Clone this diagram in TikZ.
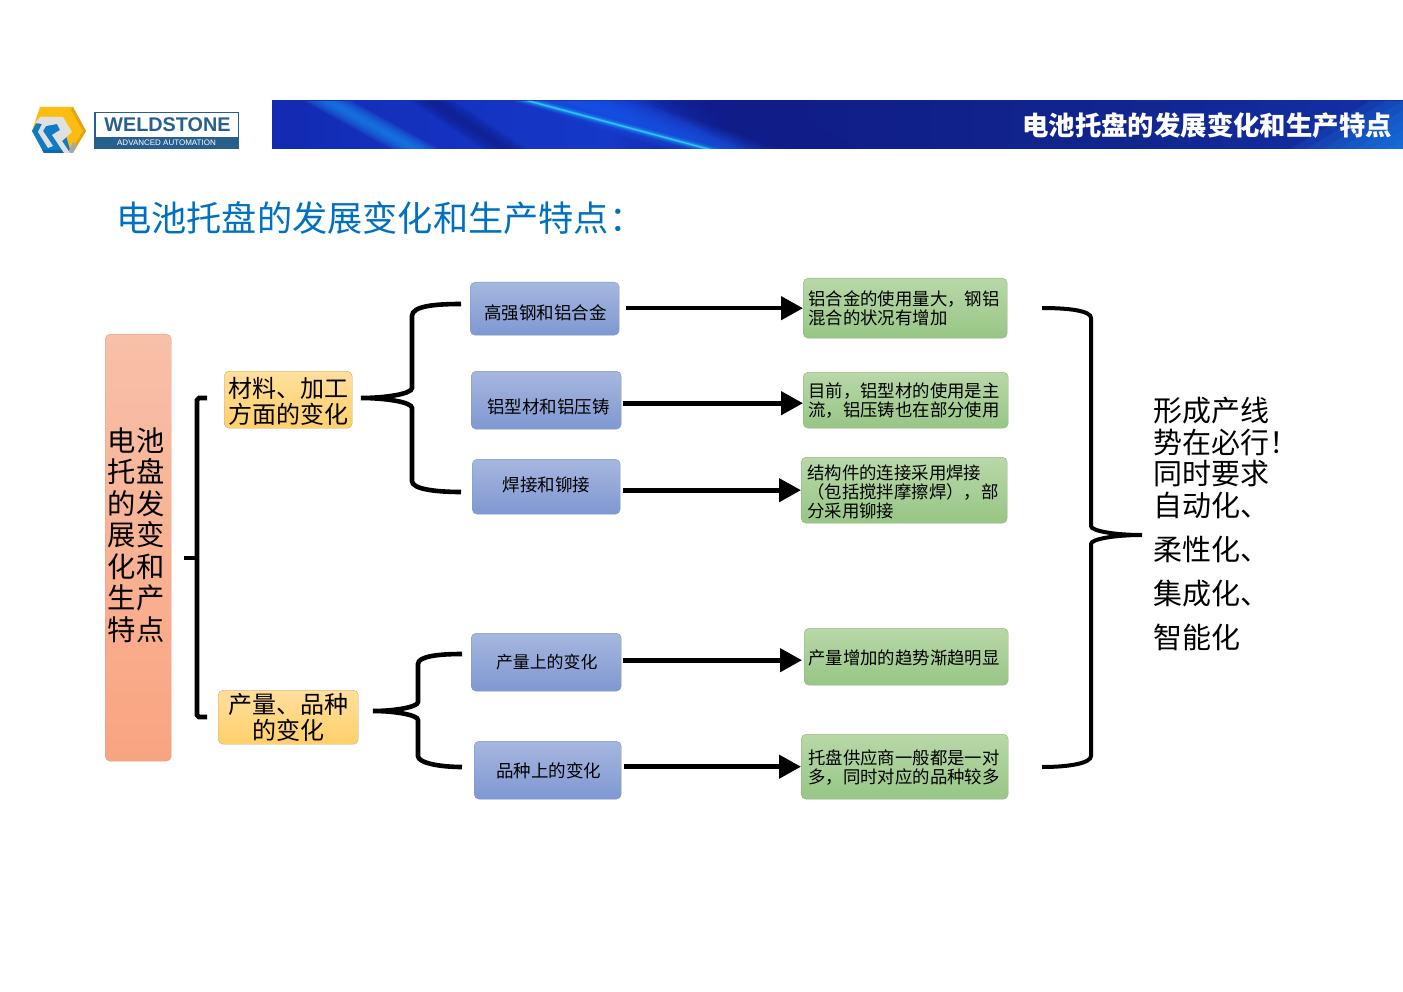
\documentclass[tikz,border=0pt]{standalone}
\usepackage{fontspec}
\setmainfont{Noto Sans CJK SC}
\newfontfamily\logofont{Liberation Sans}
\usetikzlibrary{arrows.meta}
\definecolor{titleblue}{HTML}{0070C0}
\definecolor{logoline}{HTML}{27608F}
\definecolor{bA}{HTML}{1C5AF0}
\definecolor{bB}{HTML}{1546DC}
\definecolor{bC}{HTML}{101F9E}
\definecolor{bD}{HTML}{1430BC}
\definecolor{bE}{HTML}{1538C8}
\definecolor{bF}{HTML}{101C88}
\definecolor{bG}{HTML}{11268F}
\definecolor{bH}{HTML}{1535B8}
\definecolor{bI}{HTML}{1E5EE4}
\definecolor{redE}{HTML}{E0A088}
\definecolor{redT}{HTML}{F8C0A8}
\definecolor{redB}{HTML}{F9A480}
\definecolor{oraE}{HTML}{C9A870}
\definecolor{oraT}{HTML}{FFDF9E}
\definecolor{oraB}{HTML}{FFD06A}
\definecolor{bluE}{HTML}{7E93BF}
\definecolor{bluT}{HTML}{A6B7DF}
\definecolor{bluB}{HTML}{7F98D2}
\definecolor{greE}{HTML}{8FB080}
\definecolor{greT}{HTML}{B8D8A8}
\definecolor{greB}{HTML}{97C685}
\definecolor{logoY}{HTML}{FDBD10}
\definecolor{logoD}{HTML}{E0A515}
\definecolor{logoB}{HTML}{0E7CC4}
\definecolor{logoN}{HTML}{0A66B8}
\definecolor{logoG}{HTML}{E0E0E0}
\definecolor{logoS}{HTML}{A8A8A8}
\definecolor{skyA}{HTML}{1C8CF0}
\definecolor{skyB}{HTML}{18A8F0}
\definecolor{skyC}{HTML}{50E0FF}
\pgfdeclarehorizontalshading{bandfill}{100bp}{
 color(0bp)=(bA); color(10bp)=(bB); color(17bp)=(bC); color(30bp)=(bD);
 color(40bp)=(bE); color(46bp)=(bF); color(64bp)=(bG); color(82bp)=(bH); color(100bp)=(bI)}
\newcommand{\tf}[2]{\fontsize{#1}{#2}\selectfont}
\newcommand{\lowertext}[2]{\raisebox{\dimexpr #1-6.6pt\relax}[0pt][0pt]{#2}}
\newcommand{\streak}[4]{%
 \foreach \w in {1,0.875,0.75,0.625,0.5,0.375,0.25,0.125}{%
  \fill[#4,opacity=0.14] ({#1-#3*\w},101) -- ({#1+#3*\w},101) -- ({#2+#3*\w},149) -- ({#2-#3*\w},149) -- cycle;}}
\tikzset{
 x=1pt,y=-1pt,
 bx/.style={rounded corners=5pt,inner sep=0pt,anchor=north west},
 redbox/.style={bx,draw=redE,top color=redT,bottom color=redB},
 orangebox/.style={bx,draw=oraE,top color=oraT,bottom color=oraB,align=center,font=\tf{24}{26}},
 bluebox/.style={bx,draw=bluE,top color=bluT,bottom color=bluB,align=center,font=\tf{17.5}{19}},
 greenbox/.style={bx,draw=greE,top color=greT,bottom color=greB,align=left,font=\tf{17.4}{19}},
 brace/.style={draw=black,line width=4.6pt,line cap=butt},
 flow/.style={draw=black,line width=4.6pt,-{Triangle[length=22pt,width=23pt]}},
}
\begin{document}
\begin{tikzpicture}
\useasboundingbox (0,0) rectangle (1403,992);
\fill[white] (0,0) rectangle (1403,992);
% header band
\begin{scope}
\clip (272,101) rectangle (1403,149);
\shade[shading=bandfill] (272,101) rectangle (1403,149);
\streak{328}{415}{24}{skyA}
\streak{432}{505}{22}{bF}
\streak{575}{725}{60}{bA}
\streak{529}{708}{16}{skyA}
\streak{529}{708}{8}{skyB}
\streak{529}{708}{3.5}{skyC}
\streak{705}{800}{60}{bF}
\streak{1500}{1420}{130}{skyA}
\end{scope}
\node[text=white,anchor=east,font=\tf{26.4}{28}\bfseries,inner sep=0pt] (headtitle) at (1392,125) {电池托盘的发展变化和生产特点};
% logo
\fill[logoY] (40,107) -- (73,107) -- (86,131) -- (73,153) -- (44,153) -- (32,131) -- cycle;
\fill[logoD] (73,107) -- (86,131) -- (77,146) -- (75,144) -- (83,131) -- (71,110) -- cycle;
\fill[logoB] (32,131) -- (37,122) -- (62,122) -- (71,153) -- (44,153) -- cycle;
\fill[logoN] (42,150) -- (71,150) -- (71,153) -- (44,153) -- cycle;
\fill[logoS] (68,153) -- (73,153) -- (77,146) -- (73,142) -- cycle;
\fill[logoG] (35,123) -- (40,117) -- (63,117) -- (72,132) -- (62,141) -- (70,153) -- (64,153) -- (52,135) -- (60,130) -- (57,124) -- (46,126) -- (43,131) -- (53,146) -- (48,148) -- (38,132) -- (42,124) -- cycle;
\draw[logoline,line width=1.5pt,fill=white] (95,112.5) rectangle (238.5,148.5);
\fill[logoline] (95,137) rectangle (238.5,149);
\node[text=logoline,font=\logofont\tf{19.8}{22}\bfseries,inner sep=0pt] (weld) at (167.5,125) {WELDSTONE};
\node[text=white,font=\logofont\tf{8}{9},inner sep=0pt] (adv) at (166.5,143) {ADVANCED AUTOMATION};
% title
\node[text=titleblue,anchor=west,font=\tf{35.2}{36},inner sep=0pt] (maintitle) at (116,218) {电池托盘的发展变化和生产特点：};
% left column
\node[redbox,minimum width=66pt,minimum height=427pt] (root) at (105,334) {};
\node[font=\tf{28.3}{31.5},align=left,inner sep=0pt] (roottext) at (136,535) {电池\\托盘\\的发\\展变\\化和\\生产\\特点};
\node[orangebox,minimum width=128pt,minimum height=57pt,text width=128pt] (o1) at (224,371) {\mbox{}\\[-3pt]材料、加工\\方面的变化};
\node[orangebox,minimum width=140pt,minimum height=54pt,text width=140pt] (o2) at (218,690) {\mbox{}\\[-6pt]产量、品种\\的变化};
% blue
\node[bluebox,minimum width=149pt,minimum height=53pt] (b1) at (470,282) {\lowertext{-4.5pt}{\hspace*{2pt}高强钢和铝合金}};
\node[bluebox,minimum width=150pt,minimum height=58pt] (b2) at (471,371) {\lowertext{-7pt}{\hspace*{5pt}铝型材和铝压铸}};
\node[bluebox,minimum width=148pt,minimum height=55pt] (b3) at (472,459) {\lowertext{1.5pt}{\hspace*{1pt}焊接和铆接}};
\node[bluebox,minimum width=150pt,minimum height=58pt] (b4) at (471,633) {\lowertext{0pt}{\tf{16.9}{19}\hspace*{1pt}产量上的变化}};
\node[bluebox,minimum width=147pt,minimum height=58pt] (b5) at (474,741) {\lowertext{-1pt}{\hspace*{2pt}品种上的变化}};
% green
\node[greenbox,minimum width=204pt,minimum height=60pt,text width=194pt] (g1) at (803,278) {铝合金的使用量大，钢铝\\混合的状况有增加};
\node[greenbox,minimum width=205pt,minimum height=56pt,text width=195pt] (g2) at (803,372) {目前，铝型材的使用是主\\流，铝压铸也在部分使用};
\node[greenbox,minimum width=206pt,minimum height=66pt,text width=194pt] (g3) at (801,457) {\mbox{}\\[-1pt]结构件的连接采用焊接\\（包括搅拌摩擦焊），部\\分采用铆接};
\node[greenbox,minimum width=204pt,minimum height=57pt,text width=196pt] (g4) at (804,628) {\mbox{}\\[-1pt]产量增加的趋势渐趋明显};
\node[greenbox,minimum width=207pt,minimum height=65pt,text width=193pt] (g5) at (801,734) {\mbox{}\\[-3pt]托盘供应商一般都是一对\\多，同时对应的品种较多};
% right text
\node[anchor=west,align=left,font=\tf{29}{31.5},inner sep=0pt] (result) at (1153,524) {形成产线\\势在必行！\\同时要求\\自动化、\\[12.5pt]柔性化、\\[12.5pt]集成化、\\[12.5pt]智能化};
% flows
\coordinate (a4) at ([yshift=2pt]b4.east);
\draw[flow,shorten <=7pt] (b1.east |- g1.west) -- (g1.west);
\draw[flow,shorten <=2pt] ([yshift=-3pt]b2.east) -- ([yshift=-3pt]g2.west);
\draw[flow,shorten <=3pt] (b3.east |- g3.west) -- (g3.west);
\draw[flow,shorten <=2pt,shorten >=2pt] (a4) -- (a4 -| g4.west);
\draw[flow,shorten <=3pt] (b5.east |- g5.west) -- (g5.west);
% braces
\coordinate (lt) at (207,398);
\coordinate (lb) at (207,717);
\coordinate (lm) at (184,558);
\draw[brace] (lt) -- (199,398) -- (197,400) -- (197,715) -- (199,717) -- (lb);
\draw[brace] (lm) -- (197,558);
\coordinate (t1) at (461,304);
\coordinate (m1) at (361,398);
\coordinate (t2) at (461,492);
\draw[brace] (t1) .. controls (435,304) and (412,306) .. (412,316) -- (412,388) .. controls (412,394) and (385,398) .. (m1) .. controls (385,398) and (412,402) .. (412,408) -- (412,481) .. controls (412,489) and (435,492) .. (t2);
\coordinate (t3) at (462,654);
\coordinate (m2) at (373,711);
\coordinate (t4) at (462,767);
\draw[brace] (t3) .. controls (440,654) and (418,656) .. (418,664) -- (418,702) .. controls (418,707) and (395,711) .. (m2) .. controls (395,711) and (418,715) .. (418,720) -- (418,756) .. controls (418,763) and (440,767) .. (t4);
\coordinate (r1) at (1042,308);
\coordinate (r2) at (1042,767);
\coordinate (rm) at (1142,535);
\draw[brace,line width=4pt] (r1) .. controls (1070,308) and (1091,311) .. (1091,318) -- (1091,526) .. controls (1091,531) and (1115,535) .. (rm) .. controls (1115,535) and (1091,539) .. (1091,544) -- (1091,756) .. controls (1091,763) and (1070,767) .. (r2);
\end{tikzpicture}
\end{document}
